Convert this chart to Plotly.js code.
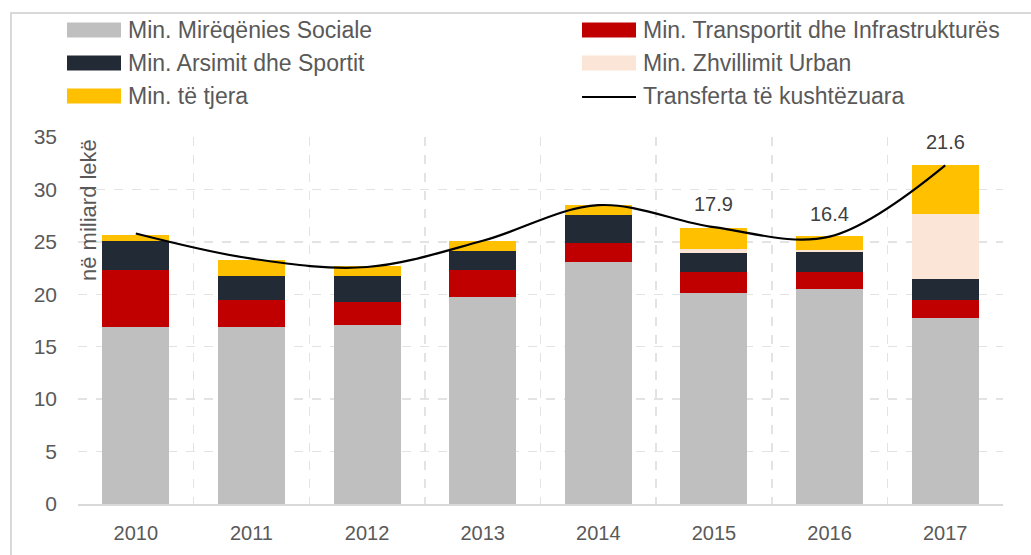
<!DOCTYPE html>
<html>
<head>
<meta charset="utf-8">
<script src="https://cdn.plot.ly/plotly-3.0.1.min.js"></script>
<style>html,body{margin:0;padding:0;background:#fff;}#chart{width:1031px;height:555px;}</style>
</head>
<body>
<div id="chart"></div>
<script>
// ---- data ----
const years = ['2010','2011','2012','2013','2014','2015','2016','2017'];
const socialeVals   = [16.9, 16.9, 17.1, 19.7, 23.1, 20.1, 20.5, 17.7];
const transportVals = [5.4, 2.6, 2.2, 2.6, 1.8, 2.0, 1.6, 1.8];
const arsimVals     = [2.8, 2.2, 2.4, 1.8, 2.7, 1.8, 1.9, 1.95];
const urbanVals     = [0, 0, 0, 0, 0, 0.4, 0.2, 6.25];
const tjeraVals     = [0.6, 1.6, 1.0, 1.0, 0.9, 2.0, 1.4, 4.6];
const transfertaVals = [25.8, 23.4, 22.6, 25.1, 28.5, 26.4, 25.5, 32.3];
const transfertaLabels = ['', '', '', '', '', '17.9', '16.4', '21.6'];
const seriesNames = ['Min. Mirëqënies Sociale', 'Min. Transportit dhe Infrastrukturës',
  'Min. Arsimit dhe Sportit', 'Min. Zhvillimit Urban', 'Min. të tjera', 'Transferta të kushtëzuara'];
const yTitle = 'në miliard lekë';

// ---- styles ----
const colors = ['#BFBFBF', '#C00000', '#222A35', '#FBE5D6', '#FFC000', '#000000'];
const FONT = 'Liberation Sans, Arial, sans-serif';
const TXT = '#595959';

const W = 1031, H = 555;
const M = {l: 78, r: 28, t: 137, b: 51};
const PW = W - M.l - M.r, PH = H - M.t - M.b;
const px = x => (x - M.l) / PW;
const py = y => (H - M.b - y) / PH;

const barSets = [socialeVals, transportVals, arsimVals, urbanVals, tjeraVals];
const traces = barSets.map((vals, i) => ({
  type: 'bar', x: years, y: vals, name: seriesNames[i],
  marker: {color: colors[i], line: {width: 0}}, hoverinfo: 'x+y+name'
}));
traces.push({
  type: 'scatter', mode: 'lines', x: years, y: transfertaVals, name: seriesNames[5],
  line: {color: colors[5], width: 2.2, shape: 'spline', smoothing: 1}
});

const shapes = [];
const annotations = [];
// outer frame
shapes.push({type: 'rect', xref: 'paper', yref: 'paper', x0: px(11), x1: px(1040), y0: py(565), y1: py(13),
  line: {color: '#D9D9D9', width: 2}, fillcolor: 'rgba(0,0,0,0)', layer: 'below'});

// custom legend (2 columns x 3 rows)
const rowY = [30, 63, 96];
const colX = [67, 582];
seriesNames.forEach((nm, i) => {
  const r = Math.floor(i / 2), c = i % 2;
  const cy = rowY[r], x0 = colX[c];
  if (i < 5) {
    shapes.push({type: 'rect', xref: 'paper', yref: 'paper', x0: px(x0), x1: px(x0 + 54),
      y0: py(cy + 7.5), y1: py(cy - 7.5), fillcolor: colors[i], line: {width: 0}});
  } else {
    shapes.push({type: 'line', xref: 'paper', yref: 'paper', x0: px(x0), x1: px(x0 + 54),
      y0: py(cy + 1), y1: py(cy + 1), line: {color: colors[i], width: 2}});
  }
  annotations.push({xref: 'paper', yref: 'paper', x: px(x0 + 59), y: py(cy), xanchor: 'left', yanchor: 'middle',
    text: nm, showarrow: false, font: {family: FONT, size: 23, color: TXT}});
});

// data labels on the line (category index positions)
years.forEach((yr, i) => {
  if (transfertaLabels[i]) {
    annotations.push({x: i, y: transfertaVals[i], xref: 'x', yref: 'y', text: transfertaLabels[i],
      showarrow: false, yanchor: 'bottom', yshift: 10, font: {family: FONT, size: 20, color: '#404040'}});
  }
});

// y title inside plot
annotations.push({xref: 'paper', yref: 'paper', x: px(88), y: py(137), xanchor: 'center', yanchor: 'top',
  text: yTitle, textangle: -90, showarrow: false, font: {family: FONT, size: 22, color: TXT}});

const layout = {
  width: W, height: H,
  margin: M,
  paper_bgcolor: '#FFFFFF', plot_bgcolor: '#FFFFFF',
  barmode: 'stack', bargap: 0.42,
  showlegend: false,
  font: {family: FONT, color: TXT},
  xaxis: {
    type: 'category', categoryorder: 'array', categoryarray: years, range: [-0.5, years.length - 0.5],
    tickson: 'boundaries', showgrid: true, gridcolor: '#E3E3E3', griddash: 'dash', gridwidth: 1.5,
    showline: true, linecolor: '#D9D9D9', linewidth: 2, ticks: '', ticklabelstandoff: 10,
    tickfont: {family: FONT, size: 20, color: TXT}, fixedrange: true
  },
  yaxis: {
    range: [0, 35], dtick: 5, tick0: 0, showgrid: true, gridcolor: '#E3E3E3', griddash: 'dash', gridwidth: 1.5,
    zeroline: false, showline: false, ticks: '', ticklabelstandoff: 20,
    tickfont: {family: FONT, size: 21, color: TXT}, fixedrange: true
  },
  shapes: shapes,
  annotations: annotations
};

Plotly.newPlot('chart', traces, layout, {displayModeBar: false, staticPlot: true});
</script>
</body>
</html>
